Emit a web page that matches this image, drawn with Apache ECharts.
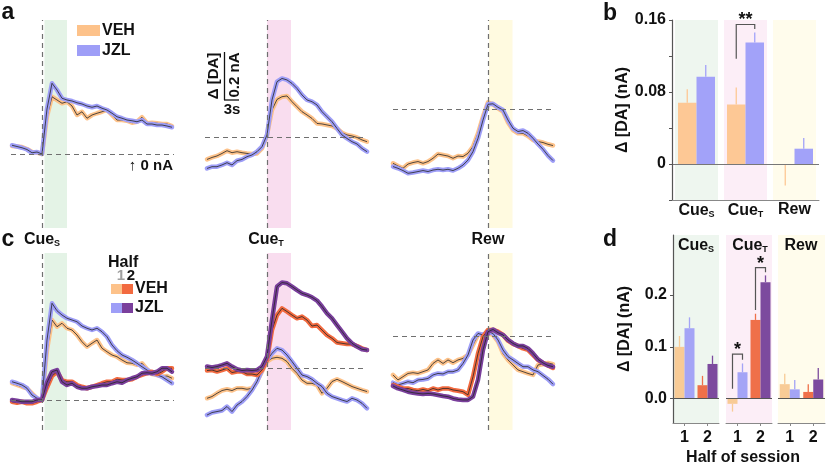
<!DOCTYPE html>
<html><head><meta charset="utf-8">
<script src="https://cdn.jsdelivr.net/npm/echarts@6/dist/echarts.min.js"></script>
<style>html,body{margin:0;padding:0;background:#fff}#c{width:828px;height:466px}</style>
</head><body><div id="c"></div>
<script>
// ---------------- DATA ----------------
// time samples (s, relative to event)
const tCueS = [-6,-5,-4,-3,-2,-1,0,1,2,3,4,5,6,7,8,9,10,11,12,13,14,15,16,17,18,19,20,21,22,23,24,25,26];
const tCueT = [-12,-11,-10,-9,-8,-7,-6,-5,-4,-3,-2,-1,0,1,2,3,4,5,6,7,8,9,10,11,12,13,14,15,16,17,18,19,20];
const tRew  = [-19,-18,-17,-16,-15,-14,-13,-12,-11,-10,-9,-8,-7,-6,-5,-4,-3,-2,-1,0,1,2,3,4,5,6,7,8,9,10,11,12,13];

// panel a traces (nA, relative to dashed line)
const aVehCueS = [0.032,0.030,0.028,0.020,0.008,0.006,0.000,0.150,0.229,0.216,0.203,0.209,0.192,0.156,0.169,0.143,0.156,0.163,0.169,0.176,0.156,0.136,0.136,0.133,0.125,0.129,0.147,0.123,0.125,0.123,0.120,0.120,0.112];
const aJzlCueS = [0.035,0.030,0.025,0.018,0.005,0.008,0.000,0.180,0.283,0.256,0.223,0.216,0.212,0.205,0.200,0.192,0.187,0.192,0.183,0.176,0.163,0.149,0.143,0.136,0.133,0.129,0.136,0.120,0.120,0.116,0.116,0.112,0.107];
const aVehCueT = [-0.087,-0.079,-0.073,-0.063,-0.052,-0.060,-0.056,-0.060,-0.063,-0.065,-0.063,-0.043,0.011,0.111,0.153,0.164,0.167,0.144,0.124,0.104,0.091,0.077,0.057,0.055,0.051,0.047,0.037,0.020,0.011,0.007,0.001,-0.009,-0.016];
const aJzlCueT = [-0.123,-0.116,-0.116,-0.109,-0.100,-0.109,-0.092,-0.087,-0.076,-0.069,-0.056,-0.036,0.011,0.151,0.224,0.237,0.231,0.217,0.197,0.171,0.151,0.144,0.131,0.104,0.084,0.064,0.037,0.011,-0.003,-0.016,-0.025,-0.043,-0.056];
const aVehRew  = [-0.216,-0.227,-0.236,-0.219,-0.213,-0.209,-0.216,-0.209,-0.196,-0.179,-0.183,-0.187,-0.196,-0.187,-0.189,-0.176,-0.149,-0.096,-0.029,0.028,0.020,0.004,-0.009,-0.053,-0.083,-0.096,-0.096,-0.107,-0.123,-0.129,-0.133,-0.140,-0.145];
const aJzlRew  = [-0.229,-0.236,-0.245,-0.256,-0.253,-0.249,-0.245,-0.249,-0.243,-0.240,-0.243,-0.240,-0.245,-0.236,-0.223,-0.203,-0.169,-0.116,-0.043,0.020,0.022,0.008,-0.003,-0.043,-0.076,-0.089,-0.085,-0.096,-0.116,-0.139,-0.160,-0.185,-0.205];

// panel c traces (half 1 / half 2)
const cVeh1CueS = [0.067,0.060,0.053,0.047,0.027,0.007,0.000,0.200,0.320,0.293,0.307,0.287,0.280,0.260,0.233,0.213,0.227,0.240,0.207,0.193,0.180,0.173,0.160,0.149,0.147,0.140,0.147,0.123,0.104,0.100,0.093,0.096,0.087];
const cJzl1CueS = [0.073,0.067,0.060,0.047,0.020,0.007,0.000,0.240,0.387,0.357,0.340,0.327,0.320,0.313,0.296,0.287,0.280,0.287,0.273,0.253,0.220,0.197,0.180,0.171,0.160,0.147,0.133,0.120,0.107,0.100,0.093,0.080,0.067];
const cVeh2CueS = [-0.007,-0.011,-0.007,-0.013,-0.013,-0.007,0.000,0.050,0.096,0.113,0.080,0.073,0.073,0.060,0.053,0.047,0.053,0.060,0.067,0.073,0.073,0.083,0.080,0.080,0.083,0.093,0.100,0.107,0.113,0.104,0.113,0.127,0.127];
const cJzl2CueS = [0.000,-0.003,-0.007,-0.007,-0.007,0.000,0.000,0.070,0.113,0.120,0.073,0.060,0.067,0.053,0.047,0.047,0.053,0.056,0.060,0.060,0.067,0.073,0.069,0.080,0.087,0.093,0.107,0.109,0.107,0.113,0.127,0.127,0.113];
const cVeh1CueT = [-0.120,-0.113,-0.100,-0.089,-0.084,-0.089,-0.080,-0.080,-0.084,-0.080,-0.053,-0.013,0.027,0.040,0.044,0.040,0.027,0.000,-0.020,-0.047,-0.060,-0.060,-0.067,-0.100,-0.080,-0.053,-0.044,-0.053,-0.063,-0.073,-0.080,-0.087,-0.093];
const cJzl1CueT = [-0.187,-0.177,-0.173,-0.169,-0.153,-0.173,-0.147,-0.133,-0.113,-0.087,-0.053,-0.007,0.033,0.060,0.080,0.073,0.053,0.027,0.000,-0.027,-0.033,-0.044,-0.060,-0.073,-0.100,-0.113,-0.120,-0.127,-0.133,-0.120,-0.127,-0.140,-0.160];
const cVeh2CueT = [-0.009,-0.007,-0.013,-0.007,0.000,-0.017,-0.013,-0.013,-0.023,-0.023,-0.027,-0.007,0.033,0.153,0.213,0.240,0.227,0.213,0.200,0.207,0.193,0.169,0.173,0.153,0.133,0.120,0.103,0.100,0.097,0.097,0.089,0.080,0.073];
const cJzl2CueT = [0.007,0.003,0.007,0.013,0.020,0.007,-0.004,-0.009,-0.007,-0.009,-0.007,0.007,0.047,0.193,0.327,0.343,0.340,0.327,0.313,0.300,0.293,0.284,0.271,0.247,0.220,0.200,0.173,0.147,0.120,0.100,0.087,0.076,0.073];
const cVeh1Rew  = [-0.153,-0.173,-0.160,-0.147,-0.144,-0.147,-0.140,-0.133,-0.107,-0.093,-0.107,-0.093,-0.104,-0.093,-0.087,-0.073,-0.033,0.007,0.007,0.013,0.007,-0.020,-0.067,-0.093,-0.113,-0.133,-0.140,-0.147,-0.153,-0.113,-0.110,-0.105,-0.110];
const cJzl1Rew  = [-0.184,-0.193,-0.187,-0.180,-0.184,-0.173,-0.171,-0.167,-0.153,-0.147,-0.149,-0.140,-0.140,-0.133,-0.107,-0.073,-0.013,0.013,0.007,0.020,0.013,-0.013,-0.053,-0.080,-0.093,-0.107,-0.120,-0.120,-0.133,-0.140,-0.155,-0.170,-0.190];
const cVeh2Rew  = [-0.193,-0.200,-0.207,-0.207,-0.213,-0.216,-0.211,-0.216,-0.207,-0.213,-0.207,-0.207,-0.213,-0.216,-0.220,-0.233,-0.160,-0.067,0.000,0.027,0.027,0.020,0.007,-0.016,-0.029,-0.037,-0.047,-0.053,-0.073,-0.093,-0.105,-0.115,-0.125];
const cJzl2Rew  = [-0.197,-0.207,-0.213,-0.220,-0.224,-0.227,-0.229,-0.227,-0.229,-0.233,-0.237,-0.240,-0.247,-0.251,-0.253,-0.253,-0.240,-0.173,-0.053,0.020,0.029,0.016,0.007,-0.013,-0.027,-0.037,-0.037,-0.047,-0.067,-0.091,-0.105,-0.115,-0.120];

// panel b bars
const bCats   = ['S','T','Rew'];
const bVeh    = [0.068, 0.066, -0.001];
const bVehSem = [0.015, 0.019, 0.023];
const bJzl    = [0.097, 0.135, 0.017];
const bJzlSem = [0.013, 0.011, 0.012];
const bSig    = [[1, 0.117, 0.155, 0.150, '**']];

// panel d bars (per event: half 1, half 2)
const dHalves  = ['1','2'];
const dVeh1    = [0.100, -0.010, 0.028];
const dVeh1Sem = [0.021, 0.015, 0.020];
const dJzl1    = [0.136, 0.051, 0.018];
const dJzl1Sem = [0.021, 0.017, 0.018];
const dVeh2    = [0.026, 0.152, 0.013];
const dVeh2Sem = [0.018, 0.012, 0.015];
const dJzl2    = [0.067, 0.225, 0.037];
const dJzl2Sem = [0.016, 0.013, 0.022];
const dSig     = [[], [[0, 0.019, 0.086, 0.075, '*'], [1, 0.171, 0.253, 0.244, '*']], []];

// ---------------- STYLE / LAYOUT ----------------
const FF = '"Liberation Sans", Arial, sans-serif';
const COL = {veh1:'#fdc28a', jzl1:'#9e9ef7', veh2:'#f26a3f', jzl2:'#7a3f9c', core:'#262626'};
const BAR_B = {veh:'#fdc895', jzl:'#a2a2f9'};
const BAR_D = {veh1:'#f8cb96', jzl1:'#a4a4f6', veh2:'#ef7049', jzl2:'#7c4a9e'};
const TRACE_BAND = ['#e4f3e6', '#f9ddef', '#fffae0'];
const BAR_BAND = ['#eef6ef', '#fceef7', '#fffcec'];
const PX_PER_NA = 250, PX_PER_S = 5;

const grids = [], xAxes = [], yAxes = [], series = [];

function addTracePanel(L) {
  const gi = grids.length;
  grids.push({left: L.left, top: L.top, width: L.right - L.left, height: L.bottom - L.top});
  xAxes.push({gridIndex: gi, type: 'value', show: false,
    min: -(L.cueX - L.left) / PX_PER_S, max: (L.right - L.cueX) / PX_PER_S});
  yAxes.push({gridIndex: gi, type: 'value', show: false,
    min: -(L.bottom - L.baseY) / PX_PER_NA, max: (L.baseY - L.top) / PX_PER_NA});
  series.push({type: 'line', xAxisIndex: gi, yAxisIndex: gi, data: [[0, 0]], symbol: 'none', silent: true,
    lineStyle: {opacity: 0}, z: 1,
    markArea: {silent: true, itemStyle: {color: L.bandColor}, data: [[{xAxis: L.band[0]}, {xAxis: L.band[1]}]]},
    markLine: {silent: true, symbol: 'none', label: {show: false},
      lineStyle: {color: '#707070', type: [5, 4], width: 1.2}, data: [{xAxis: 0}, {yAxis: 0}]}
  });
  L.traces.forEach(([vals, color]) => {
    const d = L.time.map((t, i) => [t, vals[i]]);
    series.push({type: 'line', xAxisIndex: gi, yAxisIndex: gi, data: d, symbol: 'none', silent: true, z: 3,
      lineStyle: {color: color, width: 4.5, cap: 'round', join: 'round'}});
    series.push({type: 'line', xAxisIndex: gi, yAxisIndex: gi, data: d, symbol: 'none', silent: true, z: 3,
      lineStyle: {color: COL.core, width: 0.8, join: 'round'}});
  });
}

const rowA = {top: 20, bottom: 228};
const rowC = {top: 253, bottom: 430};
const cols = [
  {left: 11, right: 174, cueX: 42, band: [0.5, 5.0], time: tCueS},
  {left: 205, right: 367, cueX: 267, band: [0.0, 4.8], time: tCueT},
  {left: 393, right: 555, cueX: 488, band: [0.2, 4.9], time: tRew}
];
const baseA = [154, 137.7, 109.3];
const baseC = [400, 368.3, 336.7];
const tracesA = [
  [[aVehCueS, COL.veh1], [aJzlCueS, COL.jzl1]],
  [[aVehCueT, COL.veh1], [aJzlCueT, COL.jzl1]],
  [[aVehRew, COL.veh1], [aJzlRew, COL.jzl1]]
];
const tracesC = [
  [[cVeh1CueS, COL.veh1], [cJzl1CueS, COL.jzl1], [cVeh2CueS, COL.veh2], [cJzl2CueS, COL.jzl2]],
  [[cVeh1CueT, COL.veh1], [cJzl1CueT, COL.jzl1], [cVeh2CueT, COL.veh2], [cJzl2CueT, COL.jzl2]],
  [[cVeh1Rew, COL.veh1], [cJzl1Rew, COL.jzl1], [cVeh2Rew, COL.veh2], [cJzl2Rew, COL.jzl2]]
];
cols.forEach((c, i) => {
  addTracePanel(Object.assign({}, c, rowA, {baseY: baseA[i], bandColor: TRACE_BAND[i], traces: tracesA[i]}));
});
cols.forEach((c, i) => {
  addTracePanel(Object.assign({}, c, rowC, {baseY: baseC[i], bandColor: TRACE_BAND[i], traces: tracesC[i]}));
});

const labelFont = {fontFamily: FF, fontWeight: 'bold', fontSize: 16, color: '#111'};
const cueRich = {
  m: {fontFamily: FF, fontWeight: 'bold', fontSize: 16, color: '#111'},
  s: {fontFamily: FF, fontWeight: 'bold', fontSize: 9, color: '#111', padding: [8, 0, 0, 0]}
};
function cueFmt(v) { return v === 'Rew' ? '{m|Rew}' : '{m|Cue}{s|' + v + '}'; }

function errSeries(xi, yi, items) {
  return {type: 'custom', xAxisIndex: xi, yAxisIndex: yi, silent: true, z: 4,
    data: items.map(it => [it.cat, it.mean, it.mean + (it.mean < 0 ? -1 : 1) * it.sem]),
    renderItem: (params, api) => {
      const it = items[params.dataIndex];
      const p0 = api.coord([api.value(0), api.value(1)]);
      const p1 = api.coord([api.value(0), api.value(2)]);
      const x = p0[0] + it.off;
      return {type: 'line', shape: {x1: x, y1: p0[1], x2: x, y2: p1[1]}, style: {stroke: it.color, lineWidth: 1.3}};
    }};
}
function sigSeries(xi, yi, sig, half) {
  return {type: 'custom', xAxisIndex: xi, yAxisIndex: yi, silent: true, z: 5,
    data: sig.map(s => [s[0], s[1], s[2], s[3]]),
    renderItem: (params, api) => {
      const cat = api.value(0);
      const pl = api.coord([cat, api.value(1)]);
      const pt = api.coord([cat, api.value(2)]);
      const pr = api.coord([cat, api.value(3)]);
      const xl = pl[0] - half, xr = pl[0] + half;
      return {type: 'group', children: [
        {type: 'polyline', shape: {points: [[xl, pl[1]], [xl, pt[1]], [xr, pt[1]], [xr, pr[1]]]},
          style: {stroke: '#555', lineWidth: 1.2, fill: null}},
        {type: 'text', x: (xl + xr) / 2, y: pt[1] + 5,
          style: {text: sig[params.dataIndex][4], font: 'bold 18px ' + FF, fill: '#111', align: 'center', verticalAlign: 'bottom'}}
      ]};
    }};
}

// ---- panel b ----
{
  const gi = grids.length;
  grids.push({left: 672, top: 20, width: 147, height: 180});
  const xi = xAxes.length;
  xAxes.push({gridIndex: gi, type: 'category', data: bCats, z: 5,
    axisLine: {show: true, onZero: false, lineStyle: {color: '#888', width: 1}},
    axisTick: {show: false},
    axisLabel: {margin: 2, interval: 0, hideOverlap: false, formatter: cueFmt, rich: cueRich}});
  xAxes.push({gridIndex: gi, type: 'category', data: bCats, show: false});
  const yi = yAxes.length;
  yAxes.push({gridIndex: gi, type: 'value', min: -0.04, max: 0.16, interval: 0.04, z: 5,
    splitLine: {show: false},
    axisLine: {show: true, lineStyle: {color: '#555', width: 1.2}},
    axisTick: {show: true, length: 3, lineStyle: {color: '#555'}},
    axisLabel: Object.assign({margin: 6, formatter: v => {
      const r = Math.round(v * 100) / 100;
      if (r === 0) return '0';
      if (r === 0.08 || r === 0.16) return r.toFixed(2);
      return '';
    }}, labelFont),
    name: 'Δ [DA] (nA)', nameLocation: 'middle', nameGap: 40, nameRotate: 90,
    nameTextStyle: labelFont});
  series.push({type: 'bar', xAxisIndex: xi + 1, yAxisIndex: yi, silent: true, z: 1, barWidth: 43, barGap: '-100%',
    data: BAR_BAND.map(c => ({value: 0.16, itemStyle: {color: c}}))});
  series.push({type: 'bar', xAxisIndex: xi + 1, yAxisIndex: yi, silent: true, z: 1, barWidth: 43, barGap: '-100%',
    data: BAR_BAND.map(c => ({value: -0.04, itemStyle: {color: c}}))});
  series.push({type: 'bar', xAxisIndex: xi, yAxisIndex: yi, silent: true, barWidth: 18.5, barGap: '0%',
    data: bVeh, itemStyle: {color: BAR_B.veh},
    markLine: {silent: true, symbol: 'none', label: {show: false}, lineStyle: {color: '#777', type: 'solid', width: 1.2}, data: [{yAxis: 0}]}});
  series.push({type: 'bar', xAxisIndex: xi, yAxisIndex: yi, silent: true, barWidth: 18.5, barGap: '0%',
    data: bJzl, itemStyle: {color: BAR_B.jzl}});
  const items = [];
  bVeh.forEach((m, i) => items.push({cat: i, mean: m, sem: bVehSem[i], off: -9.25, color: BAR_B.veh}));
  bJzl.forEach((m, i) => items.push({cat: i, mean: m, sem: bJzlSem[i], off: 9.25, color: BAR_B.jzl}));
  series.push(errSeries(xi, yi, items));
  series.push(sigSeries(xi, yi, bSig, 9.25));
}

// ---- panel d ----
const dGrid = [{left: 673, width: 46}, {left: 726, width: 46}, {left: 778, width: 47}];
dGrid.forEach((g, k) => {
  const gi = grids.length;
  grids.push({left: g.left, top: 235, width: g.width, height: 188, show: true, backgroundColor: BAR_BAND[k], borderWidth: 0});
  const xi = xAxes.length;
  xAxes.push({gridIndex: gi, type: 'category', data: dHalves, z: 5,
    axisLine: {show: true, onZero: false, lineStyle: {color: '#888'}},
    axisTick: {show: true, alignWithLabel: true, length: 3, lineStyle: {color: '#888'}},
    axisLabel: Object.assign({margin: 7, interval: 0}, labelFont)});
  const yi = yAxes.length;
  if (k === 0) {
    yAxes.push({gridIndex: gi, type: 'value', min: -0.047, max: 0.316, z: 5,
      splitLine: {show: false},
      axisLine: {show: true, lineStyle: {color: '#555', width: 1.2}},
      axisTick: {show: true, length: 3, customValues: [0, 0.1, 0.2], lineStyle: {color: '#555'}},
      axisLabel: Object.assign({margin: 6, customValues: [0, 0.1, 0.2], formatter: v => v.toFixed(1)}, labelFont),
      name: 'Δ [DA] (nA)', nameLocation: 'middle', nameGap: 40, nameRotate: 90, nameTextStyle: labelFont});
  } else {
    yAxes.push({gridIndex: gi, type: 'value', min: -0.047, max: 0.316, show: false});
  }
  series.push({type: 'bar', xAxisIndex: xi, yAxisIndex: yi, silent: true, barWidth: 10, barGap: '0%',
    data: [{value: dVeh1[k], itemStyle: {color: BAR_D.veh1}}, {value: dVeh2[k], itemStyle: {color: BAR_D.veh2}}],
    markLine: {silent: true, symbol: 'none', label: {show: false}, lineStyle: {color: '#555', type: 'solid', width: 1.2}, data: [{yAxis: 0}]}});
  series.push({type: 'bar', xAxisIndex: xi, yAxisIndex: yi, silent: true, barWidth: 10, barGap: '0%',
    data: [{value: dJzl1[k], itemStyle: {color: BAR_D.jzl1}}, {value: dJzl2[k], itemStyle: {color: BAR_D.jzl2}}]});
  series.push(errSeries(xi, yi, [
    {cat: 0, mean: dVeh1[k], sem: dVeh1Sem[k], off: -5, color: BAR_D.veh1},
    {cat: 0, mean: dJzl1[k], sem: dJzl1Sem[k], off: 5, color: BAR_D.jzl1},
    {cat: 1, mean: dVeh2[k], sem: dVeh2Sem[k], off: -5, color: BAR_D.veh2},
    {cat: 1, mean: dJzl2[k], sem: dJzl2Sem[k], off: 5, color: BAR_D.jzl2}
  ]));
  if (dSig[k].length) series.push(sigSeries(xi, yi, dSig[k], 5));
});

// ---- text / annotations ----
function T(text, x, y, size, o) {
  o = o || {};
  const st = {text: text, font: 'bold ' + size + 'px ' + FF, fill: o.fill || '#111',
    align: o.align || 'center', verticalAlign: o.va || 'middle'};
  if (o.rich) st.rich = o.rich;
  return {type: 'text', silent: true, z: 20, x: x, y: y, rotation: o.rot || 0, style: st};
}
const gRich = {
  m: {fontFamily: FF, fontWeight: 'bold', fontSize: 16, fill: '#111', color: '#111'},
  s: {fontFamily: FF, fontWeight: 'bold', fontSize: 9, fill: '#111', color: '#111', padding: [8, 0, 0, 0]}
};
const graphic = [
  T('a', 8, 13, 23), T('b', 610, 14, 23), T('c', 8, 240, 23), T('d', 610, 240, 23),
  {type: 'rect', silent: true, z: 20, shape: {x: 77, y: 25, width: 23, height: 11}, style: {fill: COL.veh1}},
  {type: 'rect', silent: true, z: 20, shape: {x: 77, y: 45, width: 23, height: 11}, style: {fill: COL.jzl1}},
  T('VEH', 102, 31, 16, {align: 'left'}), T('JZL', 102, 51, 16, {align: 'left'}),
  T('↑ 0 nA', 173, 166, 15, {align: 'right'}),
  {type: 'line', silent: true, z: 20, shape: {x1: 224.5, y1: 52, x2: 224.5, y2: 100}, style: {stroke: '#111', lineWidth: 1.3}},
  {type: 'line', silent: true, z: 20, shape: {x1: 224, y1: 100, x2: 239, y2: 100}, style: {stroke: '#111', lineWidth: 1.3}},
  T('Δ [DA]', 214, 76, 15, {rot: Math.PI / 2}),
  T('0.2 nA', 235, 75, 15, {rot: Math.PI / 2}),
  T('3s', 232, 110, 15),
  T('{m|Cue}{s|S}', 42, 240, 16, {rich: gRich}),
  T('{m|Cue}{s|T}', 266, 240, 16, {rich: gRich}),
  T('Rew', 488, 240, 16),
  T('Half', 108, 263, 16, {align: 'left'}),
  T('1', 121, 276, 15, {fill: '#a0a0a0'}), T('2', 131, 276, 15),
  {type: 'rect', silent: true, z: 20, shape: {x: 111, y: 284, width: 11, height: 10}, style: {fill: COL.veh1}},
  {type: 'rect', silent: true, z: 20, shape: {x: 122, y: 284, width: 11, height: 10}, style: {fill: COL.veh2}},
  {type: 'rect', silent: true, z: 20, shape: {x: 111, y: 303, width: 11, height: 10}, style: {fill: COL.jzl1}},
  {type: 'rect', silent: true, z: 20, shape: {x: 122, y: 303, width: 11, height: 10}, style: {fill: COL.jzl2}},
  T('VEH', 135, 289, 16, {align: 'left'}), T('JZL', 135, 308, 16, {align: 'left'}),
  T('{m|Cue}{s|S}', 696, 246, 16, {rich: gRich}),
  T('{m|Cue}{s|T}', 750, 246, 16, {rich: gRich}),
  T('Rew', 801, 246, 16),
  T('Half of session', 743, 458, 16)
];

const chart = echarts.init(document.getElementById('c'), null, {renderer: 'canvas', width: 828, height: 466});
chart.setOption({
  animation: false,
  backgroundColor: '#fff',
  grid: grids, xAxis: xAxes, yAxis: yAxes, series: series, graphic: graphic
});
</script></body></html>
